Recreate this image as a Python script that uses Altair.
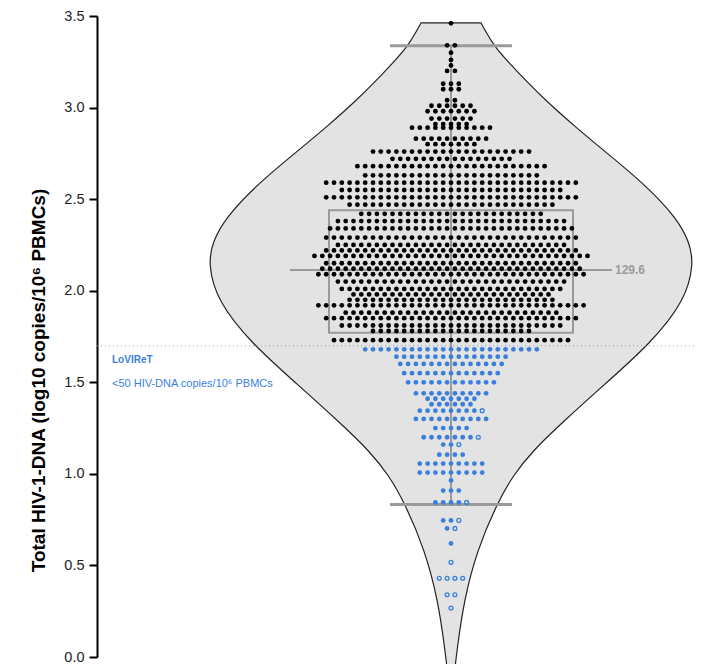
import altair as alt
import pandas as pd

# ---------------- data ----------------
# beeswarm rows: value (log10 copies/10^6 PBMCs) and number of dots in the row
black_row_y = [3.46, 3.34, 3.30, 3.26, 3.23, 3.20, 3.13, 3.10, 3.04, 3.01, 2.98, 2.94,
               2.91, 2.89, 2.83, 2.80, 2.76, 2.72, 2.68, 2.63, 2.59, 2.55, 2.51, 2.47,
               2.42, 2.38, 2.34, 2.29, 2.25, 2.22, 2.19, 2.15, 2.12, 2.09, 2.05, 2.01,
               1.98, 1.95, 1.92, 1.88, 1.85, 1.81, 1.78, 1.73]
black_row_n = [1, 2, 1, 1, 1, 2, 3, 3, 2, 6, 7, 6,
               5, 11, 10, 7, 21, 16, 25, 23, 33, 29, 33, 27,
               24, 30, 32, 33, 30, 33, 36, 33, 34, 35, 30, 29,
               26, 27, 35, 28, 33, 29, 21, 31]

blue_row_y = [1.68, 1.64, 1.60, 1.55, 1.50, 1.44, 1.41, 1.38, 1.345, 1.30, 1.25, 1.20,
              1.16, 1.105, 1.056, 1.007, 0.964, 0.909, 0.844, 0.746, 0.702, 0.62, 0.517,
              0.43, 0.34, 0.267, -0.06]
blue_row_n = [23, 15, 14, 13, 12, 10, 7, 6, 8, 10, 5, 7,
              2, 4, 9, 9, 1, 3, 4, 2, 1, 1, 0,
              0, 0, 0, 1]
blue_row_open = [0, 0, 0, 0, 0, 0, 0, 0, 1, 0, 0, 1,
                 1, 0, 0, 0, 0, 0, 1, 1, 1, 0, 1,
                 4, 2, 1, 0]

# violin outline: value and half width (pixels)
violin_y = [3.462, 3.413, 3.337, 3.239, 3.141, 3.032, 2.896, 2.760, 2.580, 2.395,
            2.270, 2.151, 1.944, 1.709, 1.491, 1.274, 1.127, 0.991, 0.838, 0.582, 0.310,
            0.038, -0.060]
violin_half = [30, 35, 43, 59, 76, 96, 124, 154, 194, 226,
               238, 243, 234, 199, 154, 110, 82, 62, 46, 26, 13,
               6, 4]

q1, median, q3 = 1.77, 2.1126, 2.44
whisker_lo, whisker_hi = 0.833, 3.337
lod = 1.699
median_label = "129.6"
y_ticks = [0.0, 0.5, 1.0, 1.5, 2.0, 2.5, 3.0, 3.5]

# ---------------- layout helpers ----------------
X_MIN, X_MAX = -354, 246
DOT_SP = 7.8
BOX_HALF, MED_HALF, WHISK_HALF = 122, 161, 61
BLUE = "#3a7fdc"
GRAY = "#9a9a9a"
FONT = "Liberation Sans"

def swarm(ys, ns, opens=None):
    rows = []
    for i, (y, n) in enumerate(zip(ys, ns)):
        o = opens[i] if opens else 0
        tot = n + o
        for k in range(tot):
            rows.append({"x": (k - (tot - 1) / 2) * DOT_SP, "y": y,
                         "open": k >= n})
    return pd.DataFrame(rows)

black_df = swarm(black_row_y, black_row_n)
blue_all = swarm(blue_row_y, blue_row_n, blue_row_open)
blue_fill = blue_all[~blue_all["open"]]
blue_open = blue_all[blue_all["open"]]

violin_df = pd.DataFrame({"y": violin_y,
                          "x": [-h for h in violin_half],
                          "x2": violin_half})

xs = alt.Scale(domain=[X_MIN, X_MAX], nice=False, zero=False)
ys = alt.Scale(domain=[0, 3.5], nice=False, zero=False)

yaxis = alt.Axis(values=y_ticks, format=".1f", grid=False,
                 domainColor="black", domainWidth=2, tickColor="black",
                 tickWidth=2, tickSize=8, labelFont=FONT,
                 labelFontSize=14.5, labelColor="#222", labelPadding=5,
                 title="Total HIV-1-DNA (log10 copies/10\u2076 PBMCs)",
                 titleFont=FONT, titleFontSize=19,
                 titleFontWeight="bold", titleColor="black",
                 titleX=-59, titleY=364, titleAngle=-90,
                 titleBaseline="middle", titleAlign="center")

violin = alt.Chart(violin_df).mark_area(
    orient="horizontal", interpolate="basis", fill="#e3e3e3",
    stroke="#222", strokeWidth=1.2
).encode(
    y=alt.Y("y:Q", scale=ys, axis=yaxis),
    x=alt.X("x:Q", scale=xs, axis=None),
    x2="x2:Q",
)

center_df = pd.DataFrame({"x": [0], "y": [whisker_lo], "y2": [whisker_hi]})
center = alt.Chart(center_df).mark_rule(color=GRAY, strokeWidth=2).encode(
    x=alt.X("x:Q", scale=xs, axis=None),
    y=alt.Y("y:Q", scale=ys), y2="y2:Q")

box_df = pd.DataFrame({"x": [-BOX_HALF], "x2": [BOX_HALF], "y": [q1], "y2": [q3]})
box = alt.Chart(box_df).mark_rect(fillOpacity=0, stroke=GRAY, strokeWidth=2).encode(
    x=alt.X("x:Q", scale=xs, axis=None), x2="x2:Q",
    y=alt.Y("y:Q", scale=ys), y2="y2:Q")

hlines_df = pd.DataFrame({
    "x": [-WHISK_HALF, -WHISK_HALF, -MED_HALF],
    "x2": [WHISK_HALF, WHISK_HALF, MED_HALF],
    "y": [whisker_hi, whisker_lo, median],
    "w": [3, 3, 2],
})
hlines = alt.Chart(hlines_df).mark_rule(color=GRAY).encode(
    x=alt.X("x:Q", scale=xs, axis=None), x2="x2:Q",
    y=alt.Y("y:Q", scale=ys),
    strokeWidth=alt.StrokeWidth("w:Q", scale=None, legend=None))

lod_df = pd.DataFrame({"x": [X_MIN], "x2": [X_MAX], "y": [lod]})
lod_line = alt.Chart(lod_df).mark_rule(color="#8aa2d4", strokeWidth=1,
                                       strokeDash=[1, 3]).encode(
    x=alt.X("x:Q", scale=xs, axis=None), x2="x2:Q",
    y=alt.Y("y:Q", scale=ys))

dots_black = alt.Chart(black_df).mark_circle(color="black", size=23, opacity=1).encode(
    x=alt.X("x:Q", scale=xs, axis=None), y=alt.Y("y:Q", scale=ys))
dots_blue = alt.Chart(blue_fill).mark_circle(color=BLUE, size=23, opacity=1).encode(
    x=alt.X("x:Q", scale=xs, axis=None), y=alt.Y("y:Q", scale=ys))
dots_open = alt.Chart(blue_open).mark_point(shape="circle", filled=False, color=BLUE,
                                            size=15, strokeWidth=1.3, opacity=1).encode(
    x=alt.X("x:Q", scale=xs, axis=None), y=alt.Y("y:Q", scale=ys))

med_text = alt.Chart(pd.DataFrame({"x": [MED_HALF + 3], "y": [median], "t": [median_label]})
                     ).mark_text(align="left", baseline="middle", font=FONT,
                                 fontSize=12, fontWeight="bold", color=GRAY).encode(
    x=alt.X("x:Q", scale=xs, axis=None), y=alt.Y("y:Q", scale=ys), text="t:N")

lab_df = pd.DataFrame({"x": [X_MIN + 15, X_MIN + 15],
                       "y": [lod - 0.078, lod - 0.207],
                       "t": ["LoVIReT", "<50 HIV-DNA copies/10\u2076 PBMCs"]})
lab1 = alt.Chart(lab_df.iloc[[0]]).mark_text(
    align="left", baseline="middle", font=FONT, fontSize=10,
    fontWeight="bold", color=BLUE).encode(
    x=alt.X("x:Q", scale=xs, axis=None), y=alt.Y("y:Q", scale=ys), text="t:N")
lab2 = alt.Chart(lab_df.iloc[[1]]).mark_text(
    align="left", baseline="middle", font=FONT, fontSize=11,
    color=BLUE).encode(
    x=alt.X("x:Q", scale=xs, axis=None), y=alt.Y("y:Q", scale=ys), text="t:N")

chart = alt.layer(
    violin, lod_line, center, box, hlines, dots_black, dots_blue, dots_open,
    med_text, lab1, lab2
).properties(
    width=600, height=641,
    autosize=alt.AutoSizeParams(type="none"),
    padding={"left": 89, "top": 8, "right": 0, "bottom": 7},
).configure_view(stroke=None)

chart.save("out.html", embed_options={"renderer": "svg", "actions": False})
